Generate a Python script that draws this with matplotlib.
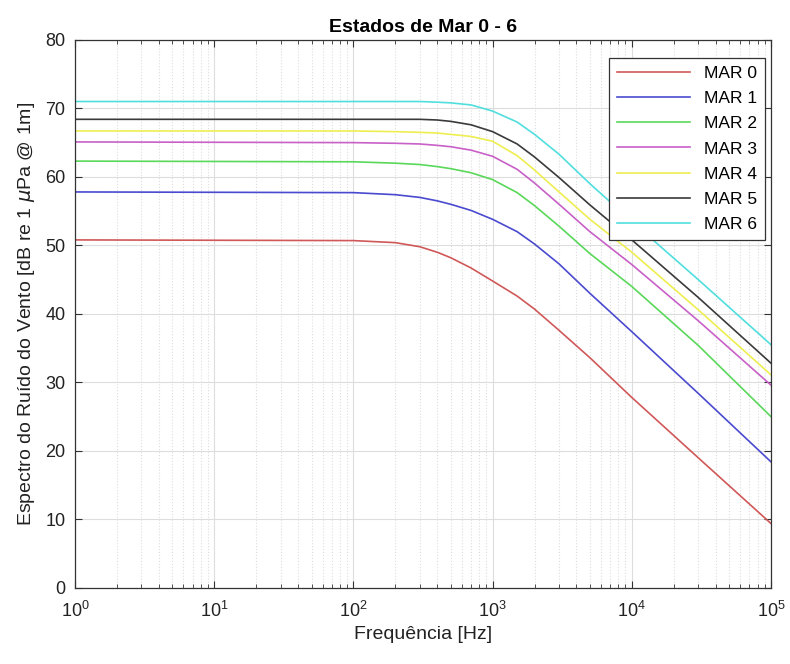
import matplotlib
matplotlib.use('Agg')
import matplotlib.pyplot as plt
import numpy as np

plt.rcParams['font.family'] = ['Liberation Sans', 'DejaVu Sans']
plt.rcParams['mathtext.fontset'] = 'dejavusans'

freq = [1, 100, 200, 300, 400, 500, 700, 1000, 1500, 2000, 3000, 5000, 10000, 30000, 100000]

mar0 = [50.8, 50.7, 50.4, 49.8, 49.0, 48.2, 46.7, 44.8, 42.6, 40.7, 37.6, 33.6, 27.8, 19.0, 9.4]
mar1 = [57.8, 57.7, 57.4, 57.0, 56.5, 56.0, 55.1, 53.8, 52.0, 50.2, 47.3, 43.0, 37.4, 28.4, 18.4]
mar2 = [62.3, 62.2, 62.0, 61.8, 61.5, 61.2, 60.6, 59.6, 57.7, 55.8, 52.8, 48.8, 44.0, 35.4, 25.0]
mar3 = [65.1, 65.0, 64.9, 64.8, 64.6, 64.4, 63.9, 63.0, 61.1, 59.1, 56.0, 52.0, 47.2, 39.0, 29.6]
mar4 = [66.7, 66.7, 66.6, 66.5, 66.4, 66.2, 65.9, 65.2, 63.1, 61.0, 57.8, 53.8, 49.0, 40.6, 31.1]
mar5 = [68.4, 68.4, 68.4, 68.4, 68.3, 68.1, 67.6, 66.6, 64.8, 62.9, 59.9, 55.9, 50.8, 42.4, 32.8]
mar6 = [71.0, 71.0, 71.0, 71.0, 70.9, 70.8, 70.5, 69.6, 68.0, 66.2, 63.3, 59.0, 53.5, 45.0, 35.5]

series = [mar0, mar1, mar2, mar3, mar4, mar5, mar6]
labels = ['MAR 0', 'MAR 1', 'MAR 2', 'MAR 3', 'MAR 4', 'MAR 5', 'MAR 6']
colors = ['#d05858', '#4a4ad0', '#5ad85a', '#c860c8', '#eeee50', '#3a3a3a', '#50dede']

fig = plt.figure(figsize=(7.9, 6.64), dpi=100)
ax = fig.add_axes([0.095, 0.1145, 0.881, 0.8255])

for vals, lab, col in zip(series, labels, colors):
    ax.semilogx(freq, vals, color=col, linewidth=1.2, label=lab)

ax.set_xlim(1, 1e5)
ax.set_ylim(0, 80)
ax.set_yticks(np.arange(0, 81, 10))

ax.grid(True, which='major', color='#dddddd', linestyle='-', linewidth=0.8)
ax.grid(True, which='minor', axis='x', color='#dddddd', linestyle=':', linewidth=0.8)
ax.set_axisbelow(True)

ax.tick_params(which='both', direction='in', top=True, right=True, labelsize=13,
               color='#333333', labelcolor='#222222')
ax.tick_params(which='major', length=5)
ax.tick_params(which='minor', length=3)
ax.tick_params(axis='x', which='major', pad=9)
ax.tick_params(axis='y', which='major', pad=7)
for s in ax.spines.values():
    s.set_color('#333333')
    s.set_linewidth(0.9)

ax.set_title('Estados de Mar 0 - 6', fontsize=14, fontweight='bold', pad=6)
ax.set_xlabel('Frequência [Hz]', fontsize=14, labelpad=4, color='#222222')
ax.set_ylabel(r'Espectro do Ruído do Vento [dB re 1 $\mu$Pa @ 1m]', fontsize=14,
              labelpad=6, color='#222222')

leg = ax.legend(loc='upper right', fontsize=12.5, handlelength=4.2, fancybox=False,
                edgecolor='#333333', framealpha=1, borderpad=0.45, labelspacing=0.58,
                borderaxespad=0, bbox_to_anchor=(0.991, 0.967))
leg.get_frame().set_linewidth(0.9)

fig.savefig('out.png', dpi=100)
